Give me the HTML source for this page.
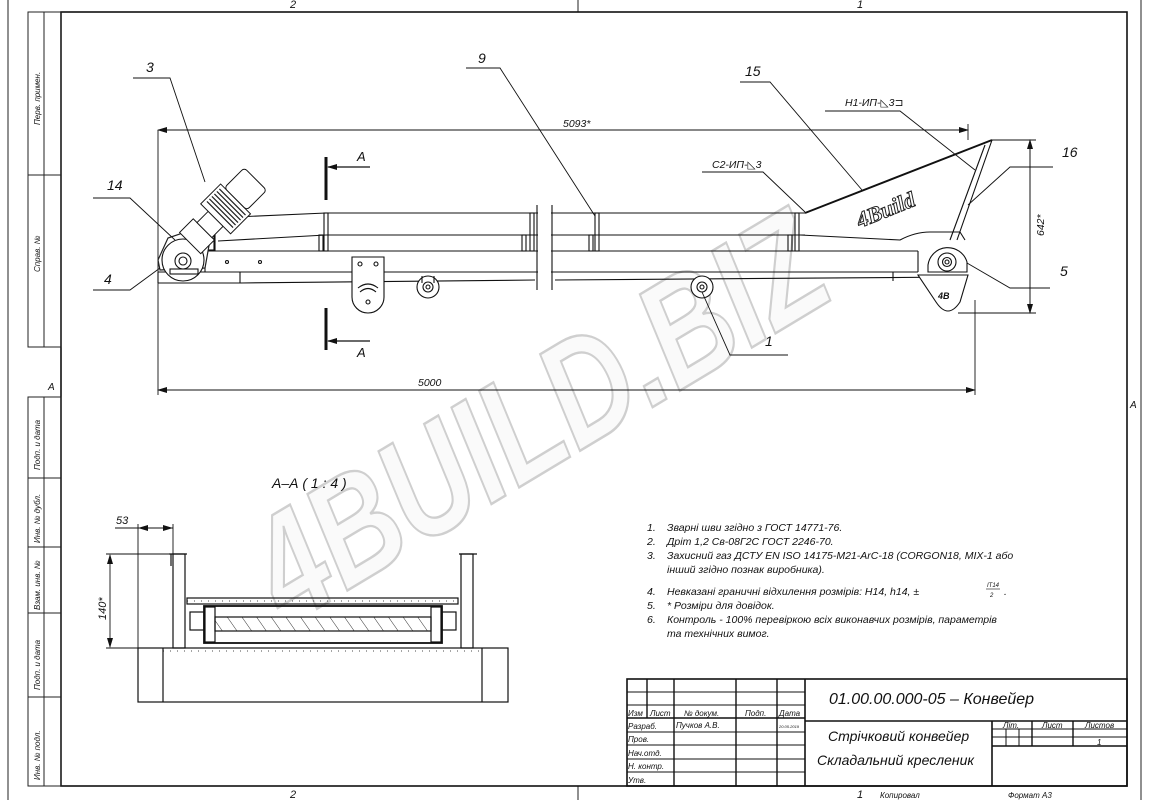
<!DOCTYPE html>
<html><head><meta charset="utf-8"><style>
html,body{margin:0;padding:0;background:#fff;}
svg{display:block;}
text{font-family:"Liberation Sans","DejaVu Sans",sans-serif;font-style:italic;fill:#111;}
</style></head><body>
<svg width="1150" height="800" viewBox="0 0 1150 800" xmlns="http://www.w3.org/2000/svg">
<defs>
<marker id="ar" markerWidth="10" markerHeight="6" refX="9" refY="3" orient="auto" markerUnits="userSpaceOnUse"><path d="M0,0 L10,3 L0,6 z" fill="#111"/></marker>
<pattern id="hat" width="12" height="12" patternUnits="userSpaceOnUse" patternTransform="rotate(-35)"><line x1="0" y1="0" x2="0" y2="12" stroke="#333" stroke-width="1"/></pattern>
</defs>
<rect width="1150" height="800" fill="#fff"/>
<g stroke="#222" fill="none" stroke-width="1">
<line x1="8" y1="0" x2="8" y2="800"/>
<line x1="1141" y1="0" x2="1141" y2="800"/>
<line x1="578" y1="0" x2="578" y2="12"/>
<line x1="578" y1="786" x2="578" y2="800"/>
</g>
<rect x="61" y="12" width="1066" height="774" fill="none" stroke="#111" stroke-width="1.6"/>
<text x="290" y="8" font-size="11">2</text><text x="857" y="8" font-size="11">1</text>
<text x="290" y="798" font-size="11">2</text><text x="857" y="798" font-size="11">1</text>
<text x="48" y="390" font-size="10">A</text><text x="1130" y="408" font-size="10">A</text>
<g stroke="#222" fill="none" stroke-width="1">
<rect x="28" y="12" width="33" height="335"/><line x1="44" y1="12" x2="44" y2="347"/><line x1="28" y1="175" x2="61" y2="175"/>
<rect x="28" y="397" width="33" height="389"/><line x1="44" y1="397" x2="44" y2="786"/>
<line x1="28" y1="478" x2="61" y2="478"/><line x1="28" y1="547" x2="61" y2="547"/><line x1="28" y1="613" x2="61" y2="613"/><line x1="28" y1="697" x2="61" y2="697"/>
</g>
<g font-size="8">
<text transform="translate(40,125) rotate(-90)">Перв. примен.</text>
<text transform="translate(40,272) rotate(-90)">Справ. №</text>
<text transform="translate(40,470) rotate(-90)">Подп. и дата</text>
<text transform="translate(40,543) rotate(-90)">Инв. № дубл.</text>
<text transform="translate(40,610) rotate(-90)">Взам. инв. №</text>
<text transform="translate(40,690) rotate(-90)">Подп. и дата</text>
<text transform="translate(40,780) rotate(-90)">Инв. № подл.</text>
</g>

<text transform="translate(290,625) rotate(-31)" font-size="150" font-weight="bold" font-style="italic" textLength="640" lengthAdjust="spacingAndGlyphs" style="fill:#fafafa;stroke:#cfcfcf;stroke-width:2.5">4BUILD.BIZ</text>

<g stroke="#111" stroke-width="0.9" fill="none">
<line x1="158" y1="130" x2="158" y2="395"/>
<line x1="968" y1="124" x2="968" y2="140"/>
<line x1="158" y1="130" x2="968" y2="130" marker-end="url(#ar)"/>
<line x1="968" y1="130" x2="158" y2="130" marker-end="url(#ar)"/>
<line x1="975" y1="300" x2="975" y2="395"/>
<line x1="158" y1="390" x2="975" y2="390" marker-end="url(#ar)"/>
<line x1="975" y1="390" x2="158" y2="390" marker-end="url(#ar)"/>
<line x1="992" y1="140" x2="1036" y2="140"/>
<line x1="958" y1="313" x2="1036" y2="313"/>
<line x1="1030" y1="140" x2="1030" y2="313" marker-end="url(#ar)"/>
<line x1="1030" y1="313" x2="1030" y2="140" marker-end="url(#ar)"/>
</g>
<text x="563" y="127" font-size="10.5">5093*</text>
<text x="418" y="386" font-size="10.5">5000</text>
<text transform="translate(1044,236) rotate(-90)" font-size="10.5">642*</text>

<g stroke="#111" stroke-width="1.1" fill="none">
<line x1="235" y1="217" x2="326" y2="213"/><line x1="326" y1="213" x2="805" y2="213"/>
<line x1="218" y1="241" x2="326" y2="235"/><line x1="326" y1="235" x2="805" y2="235"/>
<line x1="205" y1="251" x2="918" y2="251"/>
<line x1="210" y1="272" x2="918" y2="272"/>
<line x1="918" y1="251" x2="918" y2="272"/>
<line x1="205" y1="251" x2="205" y2="272"/>
<line x1="158" y1="272" x2="210" y2="272"/>
<line x1="158" y1="283" x2="240" y2="283"/><line x1="240" y1="283" x2="535" y2="280"/><line x1="555" y1="280" x2="960" y2="277"/>
<line x1="158" y1="272" x2="158" y2="283"/><line x1="240" y1="272" x2="240" y2="283"/>
<line x1="893" y1="272" x2="893" y2="281"/>
<rect x="324" y="213" width="4" height="38"/><rect x="319" y="235" width="4" height="16"/>
<rect x="530" y="213" width="4" height="38"/><rect x="522" y="235" width="4" height="16"/>
<rect x="595" y="213" width="4" height="38"/><rect x="589" y="235" width="4" height="16"/>
<rect x="795" y="213" width="4" height="38"/><rect x="788" y="235" width="4" height="16"/>
<line x1="215" y1="216" x2="215" y2="251"/><rect x="208" y="222" width="6" height="28"/>
</g>
<rect x="538" y="200" width="13" height="95" fill="#fff"/>
<g stroke="#111" stroke-width="1.1" fill="none">
<line x1="537" y1="205" x2="537" y2="290"/><line x1="552" y1="205" x2="552" y2="290"/>
<circle cx="227" cy="262" r="1.5"/><circle cx="260" cy="262" r="1.5"/>
<path d="M352,257 L384,257 L384,297 A16,16 0 0 1 352,297 Z" fill="#fff"/>
<circle cx="360" cy="264" r="2"/><circle cx="376" cy="264" r="2"/><circle cx="368" cy="302" r="2"/>
<path d="M358,288 Q368,280 378,288"/><path d="M360,292 Q368,285 376,292"/>
<circle cx="428" cy="287" r="11" fill="#fff"/><circle cx="428" cy="287" r="5"/><circle cx="428" cy="287" r="2"/>
<line x1="422" y1="276" x2="422" y2="283"/><line x1="434" y1="276" x2="434" y2="283"/>
<circle cx="702" cy="287" r="11" fill="#fff"/><circle cx="702" cy="287" r="5"/><circle cx="702" cy="287" r="2"/>
<line x1="805" y1="213" x2="992" y2="140" stroke-width="2"/>
<line x1="992" y1="140" x2="957" y2="240"/><line x1="985" y1="145" x2="950" y2="240"/>
<path d="M800,235 L900,240 Q915,232 930,232 L960,232 L965,240"/>
<path d="M928,265 A20,20 0 0 1 967,262 L967,272 L928,272 Z" fill="#fff"/>
<circle cx="947" cy="262" r="9"/><circle cx="947" cy="262" r="4.5"/><circle cx="947" cy="262" r="2"/>
<path d="M918,275 L968,275 L960,302 Q948,320 936,302 Z" fill="#fff"/>
<path d="M158,260 L168,238 L180,234 L195,226 L210,240 L205,268 L160,270 Z" fill="#fff" stroke="#222" stroke-width="1.2"/>
<circle cx="183" cy="260" r="21" fill="#fff"/><circle cx="183" cy="261" r="8"/><circle cx="183" cy="261" r="4"/>
<rect x="170" y="269" width="28" height="5"/>
<g transform="translate(192,240) rotate(45) scale(0.88) translate(-192,-240)">
<rect x="176" y="222" width="34" height="22" fill="#fff"/>
<rect x="182" y="204" width="24" height="18" fill="#fff"/>
<rect x="170" y="172" width="48" height="32" fill="#fff"/>
<rect x="176" y="140" width="36" height="32" rx="4" fill="#fff"/>
</g>
</g>
<g stroke="#222" stroke-width="1.4" transform="translate(192,240) rotate(45) scale(0.88) translate(-192,-240)">
<line x1="173" y1="177" x2="215" y2="177"/><line x1="173" y1="181" x2="215" y2="181"/><line x1="173" y1="185" x2="215" y2="185"/><line x1="173" y1="189" x2="215" y2="189"/><line x1="173" y1="193" x2="215" y2="193"/><line x1="173" y1="197" x2="215" y2="197"/>
</g>
<text transform="translate(860,228) rotate(-22)" font-size="22" font-weight="bold" font-style="normal" style="fill:#fff;stroke:#222;stroke-width:1;font-family:'Liberation Serif',serif">4Build</text>
<text x="938" y="299" font-size="9" font-weight="bold" font-style="normal">4B</text>

<g stroke="#111" fill="none">
<line x1="326" y1="157" x2="326" y2="200" stroke-width="3"/>
<line x1="370" y1="167" x2="328" y2="167" stroke-width="1.2" marker-end="url(#ar)"/>
<line x1="326" y1="308" x2="326" y2="350" stroke-width="3"/>
<line x1="370" y1="341" x2="328" y2="341" stroke-width="1.2" marker-end="url(#ar)"/>
</g>
<text x="357" y="161" font-size="13">A</text><text x="357" y="357" font-size="13">A</text>

<g stroke="#111" stroke-width="0.9" fill="none">
<polyline points="133,78 170,78 205,182"/>
<polyline points="93,198 130,198 175,240"/>
<polyline points="93,290 130,290 160,268"/>
<polyline points="466,68 500,68 595,216"/>
<polyline points="740,82 770,82 862,190"/>
<polyline points="825,111 900,111 975,170"/>
<polyline points="702,172 763,172 805,212"/>
<polyline points="1053,167 1010,167 968,205"/>
<polyline points="1050,288 1010,288 967,263"/>
<polyline points="788,355 730,355 702,292"/>
</g>
<g font-size="14">
<text x="146" y="72">3</text><text x="107" y="190">14</text><text x="104" y="284">4</text>
<text x="478" y="63">9</text><text x="745" y="76">15</text><text x="1062" y="157">16</text>
<text x="1060" y="276">5</text><text x="765" y="346">1</text>
</g>
<text x="845" y="106" font-size="10.5">Н1-ИП-◺3⊐</text>
<text x="712" y="168" font-size="10.5">С2-ИП-◺3</text>

<text x="272" y="488" font-size="14">А–А ( 1 : 4 )</text>
<g stroke="#111" stroke-width="1.2" fill="none">
<rect x="173" y="554" width="12" height="94"/><line x1="169" y1="554" x2="187" y2="554"/><line x1="171" y1="554" x2="171" y2="566"/>
<rect x="461" y="554" width="12" height="94"/><line x1="459" y1="554" x2="477" y2="554"/>
<rect x="187" y="598" width="271" height="6"/>
<rect x="204" y="606" width="238" height="37" stroke-width="1.8"/>
<rect x="205" y="607" width="10" height="35"/><rect x="431" y="607" width="10" height="35"/>
<rect x="215" y="617" width="216" height="14" fill="url(#hat)"/>
<rect x="190" y="612" width="14" height="18"/><rect x="442" y="612" width="14" height="18"/>
<rect x="138" y="648" width="370" height="54"/>
<line x1="163" y1="648" x2="163" y2="702"/><line x1="482" y1="648" x2="482" y2="702"/>
<line x1="163" y1="651" x2="482" y2="651" stroke-dasharray="1 6" stroke-width="0.8"/>
<line x1="187" y1="601" x2="458" y2="601" stroke-dasharray="1 6" stroke-width="0.8"/>
</g>
<g stroke="#111" stroke-width="0.9" fill="none">
<line x1="138" y1="524" x2="138" y2="648"/><line x1="173" y1="524" x2="173" y2="554"/>
<line x1="115" y1="528" x2="173" y2="528"/>
<line x1="160" y1="528" x2="139" y2="528" marker-end="url(#ar)"/>
<line x1="151" y1="528" x2="172" y2="528" marker-end="url(#ar)"/>
<line x1="106" y1="554" x2="173" y2="554"/><line x1="106" y1="648" x2="138" y2="648"/>
<line x1="110" y1="600" x2="110" y2="555" marker-end="url(#ar)"/>
<line x1="110" y1="600" x2="110" y2="647" marker-end="url(#ar)"/>
</g>
<text x="116" y="524" font-size="11">53</text>
<text transform="translate(106,620) rotate(-90)" font-size="11">140*</text>

<g font-size="10.5">
<text x="647" y="531">1.</text><text x="667" y="531">Зварні шви згідно з ГОСТ 14771-76.</text>
<text x="647" y="545">2.</text><text x="667" y="545">Дріт 1,2 Св-08Г2С ГОСТ 2246-70.</text>
<text x="647" y="559">3.</text><text x="667" y="559">Захисний газ ДСТУ EN ISO 14175-M21-ArC-18 (CORGON18, MIX-1 або</text>
<text x="667" y="573">інший згідно познак виробника).</text>
<text x="647" y="595">4.</text><text x="667" y="595">Невказані граничні відхилення розмірів: H14, h14, ±</text>
<text x="987" y="587" font-size="6">IT14</text><line x1="986" y1="589" x2="1000" y2="589" stroke="#111" stroke-width="0.6"/><text x="990" y="597" font-size="6">2</text><text x="1004" y="595">.</text>
<text x="647" y="609">5.</text><text x="667" y="609">* Розміри для довідок.</text>
<text x="647" y="623">6.</text><text x="667" y="623">Контроль - 100% перевіркою всіх виконавчих розмірів, параметрів</text>
<text x="667" y="637">та технічних вимог.</text>
</g>

<g stroke="#111" fill="none">
<rect x="627" y="679" width="500" height="107" stroke-width="1.6"/>
<line x1="805" y1="679" x2="805" y2="786" stroke-width="1.6"/>
<line x1="805" y1="721" x2="1127" y2="721" stroke-width="1.6"/>
<line x1="992" y1="721" x2="992" y2="786" stroke-width="1.6"/>
<line x1="992" y1="729" x2="1127" y2="729" stroke-width="1"/>
<line x1="992" y1="737" x2="1127" y2="737" stroke-width="1"/>
<line x1="992" y1="746" x2="1127" y2="746" stroke-width="1.6"/>
<line x1="1032" y1="721" x2="1032" y2="746" stroke-width="1.4"/>
<line x1="1073" y1="721" x2="1073" y2="746" stroke-width="1.4"/>
<line x1="1006" y1="729" x2="1006" y2="746" stroke-width="1"/>
<line x1="1019" y1="729" x2="1019" y2="746" stroke-width="1"/>
<line x1="627" y1="692" x2="805" y2="692" stroke-width="1"/>
<line x1="627" y1="705" x2="805" y2="705" stroke-width="1"/>
<line x1="627" y1="718" x2="805" y2="718" stroke-width="1.6"/>
<line x1="627" y1="732" x2="805" y2="732" stroke-width="1"/>
<line x1="627" y1="745" x2="805" y2="745" stroke-width="1"/>
<line x1="627" y1="759" x2="805" y2="759" stroke-width="1"/>
<line x1="627" y1="772" x2="805" y2="772" stroke-width="1"/>
<line x1="647" y1="679" x2="647" y2="718" stroke-width="1.4"/>
<line x1="674" y1="679" x2="674" y2="786" stroke-width="1.4"/>
<line x1="736" y1="679" x2="736" y2="786" stroke-width="1.4"/>
<line x1="777" y1="679" x2="777" y2="786" stroke-width="1.4"/>
</g>
<g font-size="8">
<text x="628" y="716">Изм</text><text x="650" y="716">Лист</text><text x="684" y="716">№ докум.</text><text x="745" y="716">Подп.</text><text x="779" y="716">Дата</text>
<text x="628" y="729">Разраб.</text><text x="676" y="728">Пучков А.В.</text><text x="779" y="728" font-size="4">20.05.2019</text>
<text x="628" y="742">Пров.</text><text x="628" y="756">Нач.отд.</text><text x="628" y="769">Н. контр.</text><text x="628" y="783">Утв.</text>
<text x="1003" y="728">Літ.</text><text x="1042" y="728">Лист</text><text x="1085" y="728">Листов</text><text x="1097" y="745">1</text>
<text x="880" y="798">Копировал</text><text x="1008" y="798">Формат А3</text>
</g>
<text x="829" y="704" font-size="16">01.00.00.000-05 – Конвейер</text>
<text x="828" y="741" font-size="14">Стрічковий конвейер</text>
<text x="817" y="765" font-size="14">Складальний кресленик</text>
</svg>
</body></html>
